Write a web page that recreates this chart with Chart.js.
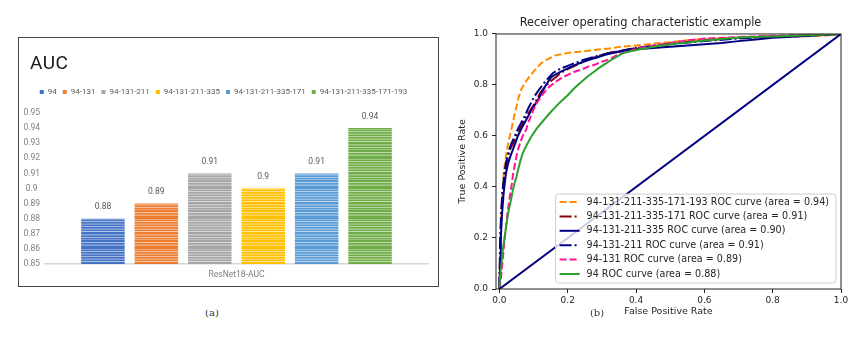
<!DOCTYPE html>
<html>
<head>
<meta charset="utf-8">
<script src="https://cdn.jsdelivr.net/npm/chart.js@4.4.0/dist/chart.umd.min.js"></script>
<style>
  html, body { margin: 0; padding: 0; background: #fff; }
  body { width: 866px; height: 337px; position: relative; overflow: hidden; }
  #molduraA { position: absolute; left: 18px; top: 37px; width: 421px; height: 250px; border: 1.5px solid #444; box-sizing: border-box; }
  #boxA { position: absolute; left: 19px; top: 38px; width: 419px; height: 248px; }
  #boxB { position: absolute; left: 440px; top: 0; width: 426px; height: 337px; }
  #tituloAuc { position: absolute; left: 30px; top: 62px; transform: translateY(-50%); font: 19px Roboto, sans-serif; color: #1a1a1a; letter-spacing: 0.5px; }
  .rotulo { position: absolute; top: 312px; transform: translate(-50%, -50%); font: 10px "DejaVu Serif", serif; color: #333; }
</style>
</head>
<body>
<div id="molduraA"></div>
<div id="boxA"><canvas id="graficoAuc"></canvas></div>
<div id="tituloAuc">AUC</div>
<div id="boxB"><canvas id="graficoRoc"></canvas></div>
<div class="rotulo" style="left:212px">(a)</div>
<div class="rotulo" style="left:597px">(b)</div>

<script>
// ---- (a) AUC por combinação de bandas ----
const combinacoes = ['94', '94-131', '94-131-211', '94-131-211-335', '94-131-211-335-171', '94-131-211-335-171-193'];
const valoresAuc = [0.88, 0.89, 0.91, 0.90, 0.91, 0.94];
const coresBarras = ['#4472C4', '#ED7D31', '#A5A5A5', '#FFC000', '#5B9BD5', '#70AD47'];
const categoriaAuc = ['ResNet18-AUC'];
const ticksAuc = [0.85, 0.86, 0.87, 0.88, 0.89, 0.90, 0.91, 0.92, 0.93, 0.94, 0.95];

// ---- (b) curvas ROC ----
const fpr_171_193 = [0, 0.002, 0.004, 0.006, 0.009, 0.013, 0.02, 0.027, 0.034, 0.042, 0.049, 0.056, 0.063, 0.075, 0.088, 0.105, 0.122, 0.14, 0.161, 0.185, 0.21, 0.245, 0.278, 0.32, 0.356, 0.4, 0.45, 0.5, 0.55, 0.6, 0.65, 0.7, 0.75, 0.8, 0.85, 0.9, 0.95, 1];
const tpr_171_193 = [0, 0.12, 0.22, 0.3, 0.38, 0.46, 0.53, 0.58, 0.62, 0.67, 0.71, 0.75, 0.78, 0.81, 0.833, 0.86, 0.885, 0.9, 0.915, 0.922, 0.927, 0.932, 0.937, 0.943, 0.95, 0.955, 0.962, 0.968, 0.975, 0.979, 0.982, 0.985, 0.988, 0.99, 0.99, 0.991, 0.993, 1];

const fpr_171 = [0, 0.003, 0.006, 0.01, 0.015, 0.02, 0.025, 0.032, 0.04, 0.05, 0.06, 0.07, 0.08, 0.09, 0.1, 0.11, 0.12, 0.135, 0.15, 0.165, 0.18, 0.2, 0.22, 0.245, 0.27, 0.3, 0.32, 0.36, 0.4, 0.45, 0.5, 0.6, 0.7, 0.8, 0.9, 1];
const tpr_171 = [0, 0.2, 0.3, 0.38, 0.44, 0.49, 0.52, 0.55, 0.57, 0.6, 0.63, 0.655, 0.68, 0.7, 0.72, 0.745, 0.77, 0.795, 0.815, 0.83, 0.848, 0.862, 0.875, 0.89, 0.905, 0.918, 0.926, 0.935, 0.945, 0.953, 0.962, 0.975, 0.985, 0.99, 0.995, 1];

const fpr_335 = [0, 0.002, 0.004, 0.008, 0.012, 0.016, 0.02, 0.025, 0.032, 0.039, 0.046, 0.054, 0.063, 0.073, 0.083, 0.093, 0.103, 0.112, 0.122, 0.132, 0.141, 0.151, 0.165, 0.18, 0.2, 0.22, 0.24, 0.26, 0.285, 0.31, 0.335, 0.36, 0.4, 0.45, 0.5, 0.55, 0.6, 0.65, 0.7, 0.75, 0.8, 0.9, 1];
const tpr_335 = [0, 0.1, 0.2, 0.3, 0.37, 0.42, 0.46, 0.49, 0.52, 0.545, 0.57, 0.6, 0.625, 0.65, 0.675, 0.7, 0.72, 0.74, 0.765, 0.79, 0.81, 0.83, 0.842, 0.852, 0.865, 0.878, 0.888, 0.898, 0.908, 0.918, 0.926, 0.932, 0.94, 0.945, 0.95, 0.955, 0.96, 0.965, 0.972, 0.978, 0.985, 0.992, 1];

const fpr_211 = [0, 0.002, 0.005, 0.009, 0.014, 0.02, 0.027, 0.035, 0.045, 0.055, 0.065, 0.075, 0.085, 0.1, 0.115, 0.132, 0.145, 0.156, 0.168, 0.18, 0.2, 0.219, 0.245, 0.278, 0.317, 0.36, 0.4, 0.45, 0.5, 0.6, 0.7, 0.8, 0.9, 1];
const tpr_211 = [0, 0.18, 0.3, 0.38, 0.45, 0.5, 0.54, 0.57, 0.6, 0.63, 0.655, 0.68, 0.71, 0.75, 0.78, 0.81, 0.83, 0.846, 0.856, 0.865, 0.875, 0.885, 0.898, 0.911, 0.924, 0.935, 0.945, 0.952, 0.96, 0.972, 0.982, 0.99, 0.995, 1];

const fpr_131 = [0, 0.005, 0.01, 0.015, 0.022, 0.029, 0.035, 0.04, 0.047, 0.053, 0.06, 0.068, 0.078, 0.085, 0.093, 0.102, 0.112, 0.125, 0.141, 0.16, 0.18, 0.2, 0.22, 0.24, 0.26, 0.28, 0.3, 0.32, 0.336, 0.35, 0.37, 0.4, 0.45, 0.5, 0.55, 0.6, 0.7, 0.8, 0.9, 1];
const tpr_131 = [0, 0.05, 0.12, 0.19, 0.28, 0.35, 0.4, 0.45, 0.5, 0.54, 0.57, 0.6, 0.624, 0.655, 0.68, 0.71, 0.735, 0.76, 0.787, 0.808, 0.826, 0.84, 0.852, 0.86, 0.872, 0.88, 0.891, 0.9, 0.911, 0.92, 0.93, 0.94, 0.955, 0.965, 0.975, 0.982, 0.988, 0.993, 0.996, 1];

const fpr_94 = [0, 0.002, 0.006, 0.01, 0.017, 0.024, 0.029, 0.034, 0.039, 0.044, 0.05, 0.055, 0.061, 0.068, 0.08, 0.093, 0.107, 0.122, 0.136, 0.151, 0.165, 0.18, 0.2, 0.219, 0.238, 0.258, 0.278, 0.297, 0.312, 0.327, 0.343, 0.36, 0.383, 0.42, 0.46, 0.5, 0.55, 0.6, 0.65, 0.714, 0.8, 0.9, 1];
const tpr_94 = [0, 0.05, 0.1, 0.153, 0.22, 0.284, 0.32, 0.35, 0.385, 0.414, 0.44, 0.47, 0.5, 0.532, 0.565, 0.597, 0.625, 0.65, 0.672, 0.695, 0.715, 0.735, 0.76, 0.787, 0.81, 0.833, 0.853, 0.872, 0.885, 0.898, 0.91, 0.924, 0.932, 0.942, 0.952, 0.96, 0.967, 0.974, 0.98, 0.987, 0.99, 0.995, 1];

const nomesRoc = ['94-131-211-335-171-193', '94-131-211-335-171', '94-131-211-335', '94-131-211', '94-131', '94'];
const areasRoc = [0.94, 0.91, 0.90, 0.91, 0.89, 0.88];
const fprRoc = [fpr_171_193, fpr_171, fpr_335, fpr_211, fpr_131, fpr_94];
const tprRoc = [tpr_171_193, tpr_171, tpr_335, tpr_211, tpr_131, tpr_94];
const coresRoc = ['#ff8c00', '#8b0000', '#000080', '#00008b', '#ff1493', '#2ca02c'];
const tracosRoc = [[7, 3], [12, 3, 2, 3], [], [12, 3, 2, 3], [7, 3], []];
const diagX = [0, 1];
const diagY = [0, 1];
const ticksRoc = [0, 0.2, 0.4, 0.6, 0.8, 1.0];

const fonteA = 'Roboto, sans-serif';
const fonteB = '"DejaVu Sans", sans-serif';
const corTextoB = '#262626';

// textura listrada das barras
const faixas = [[1, 0.35], [3, 0.55], [5, 0.2], [6, 0.3], [8, 0.5], [10, 0.2], [11, 0.35], [13, 0.6], [16, 0.35], [17, 0.2], [19, 0.5], [21, 0.3], [24, 0.55], [26, 0.2], [27, 0.35]];
function texturaListrada(cor) {
    const c = document.createElement('canvas');
    c.width = 8;
    c.height = 30;
    const g = c.getContext('2d');
    g.fillStyle = cor;
    g.fillRect(0, 0, 8, 30);
    faixas.forEach(([y, a]) => {
        g.fillStyle = `rgba(255,255,255,${a})`;
        g.fillRect(0, y, 8, 1);
    });
    return g.createPattern(c, 'repeat');
}

const formatoCurto = v => String(+v.toFixed(2));

// valores em cima das barras
const rotulosBarras = {
    id: 'rotulosBarras',
    afterDatasetsDraw(chart) {
        const ctx = chart.ctx;
        ctx.save();
        ctx.font = `8.5px ${fonteA}`;
        ctx.fillStyle = '#595959';
        ctx.textAlign = 'center';
        ctx.textBaseline = 'middle';
        chart.data.datasets.forEach((ds, i) => {
            const barra = chart.getDatasetMeta(i).data[0];
            ctx.fillText(formatoCurto(ds.data[0]), barra.x, barra.y - 11.5);
        });
        ctx.restore();
    }
};

new Chart(document.getElementById('graficoAuc'), {
    type: 'bar',
    data: {
        labels: categoriaAuc,
        datasets: combinacoes.map((nome, i) => ({
            label: nome,
            data: [valoresAuc[i]],
            backgroundColor: texturaListrada(coresBarras[i]),
            borderWidth: 0,
            categoryPercentage: 0.837,
            barPercentage: 0.815
        }))
    },
    options: {
        responsive: true,
        maintainAspectRatio: false,
        animation: false,
        layout: { padding: { left: 0, right: 10, top: 44, bottom: 0 } },
        plugins: {
            title: { display: false },
            // espaço entre a legenda e a área do gráfico
            subtitle: {
                display: true,
                text: '',
                weight: 500,
                padding: 0,
                font: { size: 7, lineHeight: 1 }
            },
            legend: {
                position: 'top',
                labels: {
                    boxWidth: 4,
                    boxHeight: 4,
                    padding: 6,
                    color: '#595959',
                    font: { family: fonteA, size: 8 },
                    generateLabels: chart => Chart.defaults.plugins.legend.labels.generateLabels(chart)
                        .map((item, i) => ({ ...item, fillStyle: coresBarras[i], strokeStyle: coresBarras[i], lineWidth: 0 }))
                }
            },
            tooltip: { enabled: false }
        },
        scales: {
            x: {
                grid: { display: false, drawTicks: false },
                border: { color: '#d9d9d9', width: 1.5 },
                ticks: { color: '#7f7f7f', padding: 5.9, font: { family: fonteA, size: 8.5 } },
                afterFit: s => { s.height = 22; }
            },
            y: {
                min: 0.85,
                max: 0.95,
                grid: { display: false, drawTicks: false },
                border: { display: false },
                afterBuildTicks: s => { s.ticks = ticksAuc.map(v => ({ value: v })); },
                ticks: {
                    autoSkip: false,
                    crossAlign: 'center',
                    padding: 5,
                    color: '#7f7f7f',
                    font: { family: fonteA, size: 8.5 },
                    callback: v => formatoCurto(v)
                },
                afterFit: s => { s.width = 26; s.paddingTop = 0; s.paddingBottom = 0; }
            }
        }
    },
    plugins: [rotulosBarras]
});

// moldura dos eixos e legenda no canto inferior direito
const molduraLegenda = {
    id: 'molduraLegenda',
    afterDatasetsDraw(chart) {
        const { ctx, chartArea } = chart;
        ctx.save();
        ctx.strokeStyle = '#222';
        ctx.lineWidth = 1;
        ctx.strokeRect(chartArea.left, chartArea.top, chartArea.right - chartArea.left, chartArea.bottom - chartArea.top);

        const itens = chart.data.datasets.filter(d => !d.semLegenda);
        ctx.font = `9.6px ${fonteB}`;
        const larguraTexto = Math.max(...itens.map(d => ctx.measureText(d.label).width));
        const passo = 14.4;
        const w = 4 + 20 + 7 + larguraTexto + 7;
        const h = 8 + passo * (itens.length - 1) + 9;
        const x0 = chartArea.right - 5 - w;
        const y0 = chartArea.bottom - 6 - h;

        ctx.beginPath();
        ctx.roundRect(x0, y0, w, h, 3);
        ctx.fillStyle = 'rgba(255,255,255,0.8)';
        ctx.fill();
        ctx.strokeStyle = '#cccccc';
        ctx.stroke();

        ctx.textBaseline = 'middle';
        ctx.textAlign = 'left';
        itens.forEach((d, k) => {
            const y = y0 + 8 + k * passo;
            ctx.beginPath();
            ctx.setLineDash(d.borderDash || []);
            ctx.strokeStyle = d.borderColor;
            ctx.lineWidth = 2;
            ctx.moveTo(x0 + 4, y);
            ctx.lineTo(x0 + 24, y);
            ctx.stroke();
            ctx.setLineDash([]);
            ctx.fillStyle = corTextoB;
            ctx.fillText(d.label, x0 + 31, y);
        });
        ctx.restore();
    }
};

const datasetsRoc = nomesRoc.map((nome, i) => ({
    label: `${nome} ROC curve (area = ${areasRoc[i].toFixed(2)})`,
    data: fprRoc[i].map((x, k) => ({ x, y: tprRoc[i][k] })),
    borderColor: coresRoc[i],
    borderDash: tracosRoc[i],
    borderWidth: 2,
    showLine: true,
    pointRadius: 0,
    fill: false,
    order: nomesRoc.length - i
}));
datasetsRoc.push({
    label: 'diagonal',
    semLegenda: true,
    data: diagX.map((x, k) => ({ x, y: diagY[k] })),
    borderColor: '#000080',
    borderWidth: 2,
    showLine: true,
    pointRadius: 0,
    order: 0
});

const fonteTicksB = { family: fonteB, size: 9 };
const fonteTituloEixo = { family: fonteB, size: 9.5, lineHeight: 1.2 };

new Chart(document.getElementById('graficoRoc'), {
    type: 'scatter',
    data: { datasets: datasetsRoc },
    options: {
        responsive: true,
        maintainAspectRatio: false,
        animation: false,
        layout: { padding: { left: 0, right: 25, top: 0, bottom: 0 } },
        plugins: {
            legend: { display: false },
            tooltip: { enabled: false },
            title: {
                display: true,
                text: 'Receiver operating characteristic example',
                color: corTextoB,
                font: { family: fonteB, size: 11.4, weight: 'normal', lineHeight: 1.2 },
                padding: { top: 16.2, bottom: 4.1 }
            }
        },
        scales: {
            x: {
                type: 'linear',
                min: -0.01,
                max: 1,
                afterBuildTicks: s => { s.ticks = ticksRoc.map(v => ({ value: v })); },
                ticks: { color: corTextoB, font: fonteTicksB, padding: 2, maxRotation: 0, autoSkip: false, callback: v => v.toFixed(1) },
                grid: { drawOnChartArea: false, drawTicks: true, tickLength: 4, color: '#222' },
                border: { display: false },
                title: { display: true, text: 'False Positive Rate', color: corTextoB, font: fonteTituloEixo, padding: { top: 0, bottom: 19.3 } },
                afterFit: s => { s.height = 48; s.paddingLeft = 0; s.paddingRight = 0; }
            },
            y: {
                type: 'linear',
                min: 0,
                max: 1,
                afterBuildTicks: s => { s.ticks = ticksRoc.map(v => ({ value: v })); },
                ticks: { color: corTextoB, font: fonteTicksB, padding: 4, autoSkip: false, callback: v => v.toFixed(1) },
                grid: { drawOnChartArea: false, drawTicks: true, tickLength: 4, color: '#222' },
                border: { display: false },
                title: { display: true, text: 'True Positive Rate', color: corTextoB, font: fonteTituloEixo, padding: { top: 17.3, bottom: 0 } },
                afterFit: s => { s.width = 56; s.paddingTop = 0; s.paddingBottom = 0; }
            }
        }
    },
    plugins: [molduraLegenda]
});
</script>
</body>
</html>
